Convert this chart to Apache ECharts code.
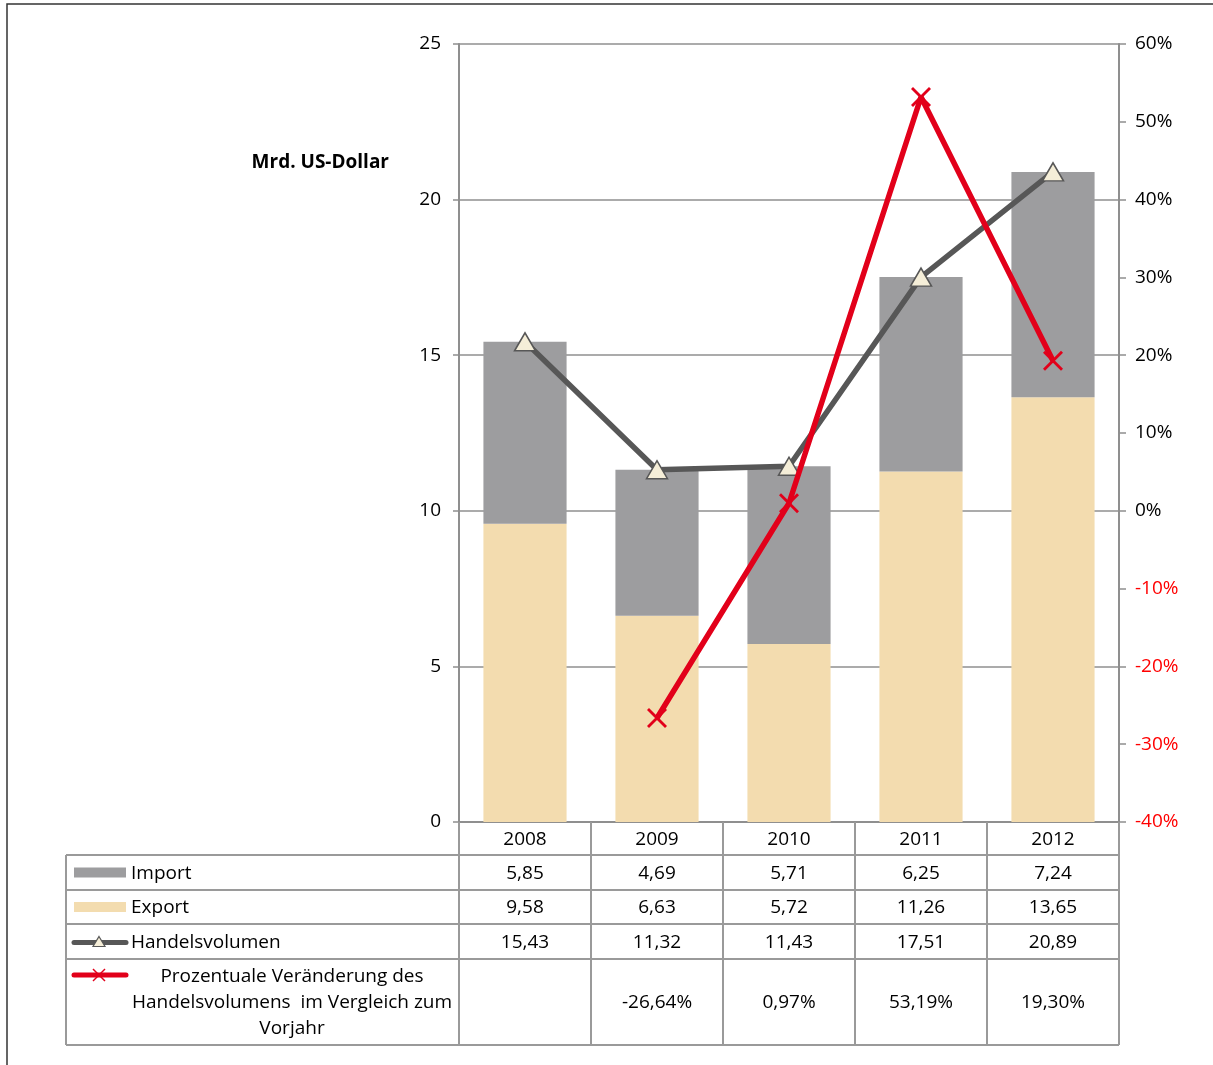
<!DOCTYPE html>
<html><head><meta charset="utf-8">
<script src="https://cdn.jsdelivr.net/npm/echarts@6/dist/echarts.min.js"></script>
<style>html,body{margin:0;padding:0;background:#fff}#c{width:1213px;height:1065px}</style>
</head><body><div id="c"></div>
<script>
// ---- data ----
const years = ['2008', '2009', '2010', '2011', '2012'];
const importVals = [5.85, 4.69, 5.71, 6.25, 7.24];
const exportVals = [9.58, 6.63, 5.72, 11.26, 13.65];
const volumeVals = [15.43, 11.32, 11.43, 17.51, 20.89];
const changeVals = [null, -26.64, 0.97, 53.19, 19.30];
const leftAxisMin = 0, leftAxisMax = 25, leftAxisStep = 5;
const rightAxisMin = -40, rightAxisMax = 60, rightAxisStep = 10;
const unitLabel = 'Mrd. US-Dollar';
const rowLabels = ['Import', 'Export', 'Handelsvolumen',
  'Prozentuale Veränderung des\nHandelsvolumens  im Vergleich zum\nVorjahr'];

// ---- style ----
const FONT = '"Open Sans", sans-serif';
const TXT = '#000';
const C_IMPORT = '#9d9d9f', C_EXPORT = '#f3dcaf', C_VOL = '#575757', C_CHG = '#e2001a';
const C_GRID = '#8f8f8f', C_TABLE = '#9a9a9a';
const TRI_FILL = '#f5eed8';
const X_PATH = 'path://M0,1L1,0L10,9L9,10Z M9,0L10,1L1,10L0,9Z';
const G = {left: 459, right: 94, top: 44, bottom: 243};
const rowsY = [855, 890, 924, 959, 1045];
const tableLeft = 66;

const fmt = v => v.toFixed(2).replace('.', ',');
const chart = echarts.init(document.getElementById('c'));

chart.setOption({
  animation: false,
  textStyle: {fontFamily: FONT},
  grid: G,
  xAxis: {
    type: 'category', data: years,
    axisLine: {lineStyle: {color: C_GRID, width: 2}},
    axisTick: {length: 33, lineStyle: {color: C_TABLE, width: 2}},
    axisLabel: {color: TXT, fontSize: 19, margin: 8, fontFamily: FONT}
  },
  yAxis: [{
    type: 'value', min: leftAxisMin, max: leftAxisMax, interval: leftAxisStep,
    axisLine: {show: true, lineStyle: {color: C_GRID, width: 2}},
    axisTick: {show: true, length: 6, lineStyle: {color: C_GRID, width: 1.5}},
    splitLine: {lineStyle: {color: C_GRID, width: 1.5}},
    axisLabel: {color: TXT, fontSize: 19, margin: 18, fontFamily: FONT}
  }, {
    type: 'value', min: rightAxisMin, max: rightAxisMax, interval: rightAxisStep,
    axisLine: {show: true, lineStyle: {color: C_GRID, width: 2}},
    axisTick: {show: true, length: 7, lineStyle: {color: C_GRID, width: 1.5}},
    splitLine: {show: false},
    axisLabel: {fontSize: 19, margin: 16, fontFamily: FONT,
      formatter: v => v + '%',
      color: v => (v < 0 ? '#ff0000' : TXT)}
  }],
  series: [{
    name: 'Export', type: 'bar', stack: 's', data: exportVals, barWidth: '63%',
    itemStyle: {color: C_EXPORT}
  }, {
    name: 'Import', type: 'bar', stack: 's', data: importVals,
    itemStyle: {color: C_IMPORT}
  }, {
    name: 'Handelsvolumen', type: 'line', data: volumeVals,
    lineStyle: {color: C_VOL, width: 5.5},
    symbol: 'triangle', symbolSize: [21, 18],
    itemStyle: {color: TRI_FILL, borderColor: C_VOL, borderWidth: 1.5},
    z: 3
  }, {
    name: 'Veränderung', type: 'line', yAxisIndex: 1, data: changeVals,
    lineStyle: {color: C_CHG, width: 5.5},
    symbol: X_PATH, symbolSize: 20,
    itemStyle: {color: C_CHG},
    z: 4
  }]
});

// ---- table & decorations ----
const colX = years.map((y, i) => chart.convertToPixel({xAxisIndex: 0}, i));
const gridRight = 1213 - G.right;
const g = [];
g.push({type: 'polyline', shape: {points: [[7, 1065], [7, 4], [1213, 4]]},
  style: {stroke: '#333', lineWidth: 1.5, fill: null}});
g.push({type: 'text', x: 389, y: 163, style: {text: unitLabel, font: 'bold 19px ' + FONT,
  fill: TXT, align: 'right', verticalAlign: 'middle'}});
rowsY.forEach(y => g.push({type: 'line', shape: {x1: tableLeft, y1: y, x2: gridRight, y2: y},
  style: {stroke: C_TABLE, lineWidth: 2}}));
g.push({type: 'line', shape: {x1: tableLeft, y1: rowsY[0], x2: tableLeft, y2: rowsY[4]},
  style: {stroke: C_TABLE, lineWidth: 2}});
const bounds = [G.left].concat(colX.map((c, i) => i < colX.length - 1 ? (c + colX[i + 1]) / 2 : gridRight));
bounds.forEach(x => g.push({type: 'line', shape: {x1: x, y1: 822, x2: x, y2: rowsY[4]},
  style: {stroke: C_TABLE, lineWidth: 2}}));
const rowData = [importVals.map(fmt), exportVals.map(fmt), volumeVals.map(fmt),
  changeVals.map(v => v == null ? '' : fmt(v) + '%')];
const cyR = r => (rowsY[r] + rowsY[r + 1]) / 2;
rowData.forEach((vals, r) => {
  vals.forEach((t, i) => g.push({type: 'text', x: colX[i], y: cyR(r) + 1,
    style: {text: t, font: '19px ' + FONT, fill: TXT, align: 'center', verticalAlign: 'middle'}}));
});
g.push({type: 'rect', shape: {x: 74, y: cyR(0) - 5, width: 52, height: 10}, style: {fill: C_IMPORT}});
g.push({type: 'rect', shape: {x: 74, y: cyR(1) - 5, width: 52, height: 10}, style: {fill: C_EXPORT}});
g.push({type: 'line', shape: {x1: 74, y1: cyR(2) + 1, x2: 126, y2: cyR(2) + 1},
  style: {stroke: C_VOL, lineWidth: 5, lineCap: 'round'}});
g.push({type: 'polygon', shape: {points: [[99, cyR(2) - 5], [105, cyR(2) + 5], [93, cyR(2) + 5]]},
  style: {fill: TRI_FILL, stroke: C_VOL, lineWidth: 1.2}});
const ly = 975;
g.push({type: 'line', shape: {x1: 74, y1: ly, x2: 126, y2: ly},
  style: {stroke: C_CHG, lineWidth: 5, lineCap: 'round'}});
g.push({type: 'line', shape: {x1: 93, y1: ly - 6, x2: 105, y2: ly + 6}, style: {stroke: C_CHG, lineWidth: 1.5}});
g.push({type: 'line', shape: {x1: 105, y1: ly - 6, x2: 93, y2: ly + 6}, style: {stroke: C_CHG, lineWidth: 1.5}});
[0, 1, 2].forEach(r => g.push({type: 'text', x: 131, y: cyR(r) + 1,
  style: {text: rowLabels[r], font: '19px ' + FONT, fill: TXT, align: 'left', verticalAlign: 'middle'}}));
g.push({type: 'text', x: 292, y: cyR(3) + 1,
  style: {text: rowLabels[3], font: '19px ' + FONT, fill: TXT, align: 'center',
    verticalAlign: 'middle', lineHeight: 26}});

chart.setOption({graphic: g.map(e => Object.assign({silent: true, z: 10}, e))});
</script>
</body></html>
